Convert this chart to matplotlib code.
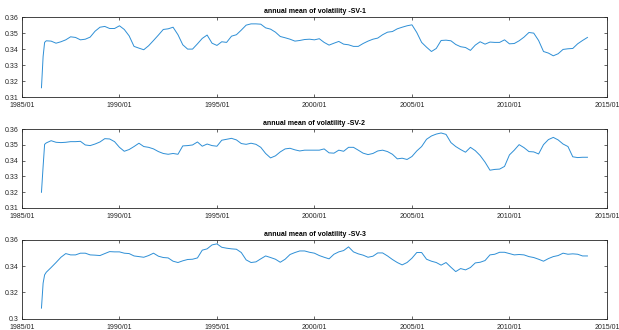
import matplotlib
matplotlib.use("Agg")
import matplotlib.pyplot as plt
import matplotlib.dates as mdates
import pandas as pd

# fechas: primeros meses sueltos, luego trimestral
fechas = pd.to_datetime(['1986-01-01', '1986-02-01', '1986-03-01']).append(
    pd.date_range('1986-04-01', '2014-01-01', freq='QS'))

sv1 = [0.3158, 0.3354, 0.3442, 0.3452, 0.3450, 0.3437, 0.3446, 0.3458, 0.3477, 0.3473,
       0.3458, 0.3462, 0.3475, 0.3512, 0.3537, 0.3542, 0.3529, 0.3529, 0.3546, 0.3523,
       0.3483, 0.3417, 0.3406, 0.3396, 0.3421, 0.3454, 0.3488, 0.3523, 0.3527, 0.3537,
       0.3490, 0.3427, 0.3400, 0.3400, 0.3433, 0.3467, 0.3488, 0.3437, 0.3423, 0.3446,
       0.3442, 0.3481, 0.3490, 0.3519, 0.3550, 0.3558, 0.3558, 0.3556, 0.3533, 0.3525,
       0.3506, 0.3479, 0.3471, 0.3462, 0.3450, 0.3454, 0.3460, 0.3462, 0.3458, 0.3465,
       0.3442, 0.3425, 0.3437, 0.3448, 0.3431, 0.3427, 0.3417, 0.3417, 0.3435, 0.3450,
       0.3462, 0.3469, 0.3490, 0.3506, 0.3510, 0.3527, 0.3537, 0.3546, 0.3552, 0.3504,
       0.3442, 0.3412, 0.3385, 0.3404, 0.3454, 0.3456, 0.3452, 0.3429, 0.3415, 0.3410,
       0.3392, 0.3425, 0.3446, 0.3431, 0.3444, 0.3442, 0.3442, 0.3458, 0.3433, 0.3435,
       0.3452, 0.3475, 0.3504, 0.3500, 0.3454, 0.3385, 0.3375, 0.3358, 0.3371, 0.3398,
       0.3402, 0.3404, 0.3433, 0.3454, 0.3473]

sv2 = [0.3199, 0.3363, 0.3503, 0.3512, 0.3526, 0.3516, 0.3514, 0.3516, 0.3520, 0.3520,
       0.3522, 0.3499, 0.3495, 0.3505, 0.3518, 0.3539, 0.3537, 0.3520, 0.3484, 0.3459,
       0.3470, 0.3489, 0.3510, 0.3489, 0.3484, 0.3474, 0.3457, 0.3445, 0.3440, 0.3445,
       0.3440, 0.3493, 0.3495, 0.3499, 0.3518, 0.3491, 0.3505, 0.3495, 0.3491, 0.3529,
       0.3535, 0.3541, 0.3531, 0.3508, 0.3503, 0.3510, 0.3503, 0.3484, 0.3445, 0.3417,
       0.3430, 0.3455, 0.3474, 0.3478, 0.3468, 0.3461, 0.3466, 0.3466, 0.3466, 0.3466,
       0.3474, 0.3449, 0.3447, 0.3466, 0.3459, 0.3484, 0.3484, 0.3466, 0.3447, 0.3438,
       0.3445, 0.3461, 0.3466, 0.3457, 0.3440, 0.3411, 0.3415, 0.3407, 0.3426, 0.3461,
       0.3489, 0.3535, 0.3556, 0.3568, 0.3575, 0.3566, 0.3514, 0.3489, 0.3470, 0.3453,
       0.3484, 0.3463, 0.3432, 0.3390, 0.3339, 0.3344, 0.3346, 0.3363, 0.3436, 0.3466,
       0.3501, 0.3482, 0.3457, 0.3455, 0.3442, 0.3501, 0.3533, 0.3547, 0.3531, 0.3505,
       0.3489, 0.3424, 0.3419, 0.3421, 0.3421]

sv3 = [0.3081, 0.3271, 0.3334, 0.3354, 0.3390, 0.3428, 0.3468, 0.3496, 0.3486, 0.3486,
       0.3499, 0.3499, 0.3486, 0.3484, 0.3481, 0.3496, 0.3511, 0.3509, 0.3509, 0.3499,
       0.3496, 0.3478, 0.3473, 0.3468, 0.3481, 0.3499, 0.3476, 0.3466, 0.3463, 0.3438,
       0.3428, 0.3441, 0.3451, 0.3453, 0.3463, 0.3522, 0.3532, 0.3562, 0.3570, 0.3544,
       0.3537, 0.3532, 0.3529, 0.3504, 0.3448, 0.3428, 0.3433, 0.3456, 0.3478, 0.3466,
       0.3453, 0.3430, 0.3453, 0.3489, 0.3504, 0.3516, 0.3516, 0.3506, 0.3499, 0.3481,
       0.3468, 0.3456, 0.3491, 0.3509, 0.3519, 0.3547, 0.3509, 0.3494, 0.3484, 0.3468,
       0.3476, 0.3501, 0.3501, 0.3478, 0.3451, 0.3428, 0.3410, 0.3428, 0.3461, 0.3504,
       0.3504, 0.3453, 0.3438, 0.3428, 0.3408, 0.3428, 0.3392, 0.3359, 0.3382, 0.3372,
       0.3390, 0.3425, 0.3430, 0.3443, 0.3486, 0.3491, 0.3506, 0.3506, 0.3496, 0.3486,
       0.3489, 0.3486, 0.3473, 0.3466, 0.3453, 0.3438, 0.3458, 0.3473, 0.3481, 0.3499,
       0.3491, 0.3494, 0.3491, 0.3478, 0.3478]

titulos = ['annual mean of volatility -SV-1', 'annual mean of volatility -SV-2',
           'annual mean of volatility -SV-3']
series = [sv1, sv2, sv3]
ylims = [(0.31, 0.36), (0.31, 0.36), (0.30, 0.36)]
yticks = [[0.31, 0.32, 0.33, 0.34, 0.35, 0.36],
          [0.31, 0.32, 0.33, 0.34, 0.35, 0.36],
          [0.30, 0.32, 0.34, 0.36]]
yticklabels = [['0.31', '0.32', '0.33', '0.34', '0.35', '0.36'],
               ['0.31', '0.32', '0.33', '0.34', '0.35', '0.36'],
               ['0.3', '0.32', '0.34', '0.36']]
xticks = pd.to_datetime(['1985-01-01', '1990-01-01', '1995-01-01', '2000-01-01',
                         '2005-01-01', '2010-01-01', '2015-01-01'])

plt.rcParams['font.family'] = ['Liberation Sans', 'DejaVu Sans']

fig = plt.figure(figsize=(6.19, 3.30), dpi=100)
# posiciones de los ejes (como subplot de matlab)
posiciones = [[0.0355, 0.706, 0.945, 0.242],
              [0.0355, 0.370, 0.945, 0.239],
              [0.0355, 0.034, 0.945, 0.239]]

for i in range(3):
    ax = fig.add_axes(posiciones[i])
    ax.plot(fechas, series[i], color='#2E8FD6', lw=0.7)
    ax.set_xlim(xticks[0], xticks[-1])
    ax.set_ylim(*ylims[i])
    ax.set_yticks(yticks[i])
    ax.set_yticklabels(yticklabels[i])
    ax.set_xticks(xticks)
    ax.xaxis.set_major_formatter(mdates.DateFormatter('%Y/%m'))
    ax.tick_params(direction='in', top=True, right=True, length=2.5, width=0.5,
                   labelsize=5, colors='#262626')
    ax.tick_params(axis='x', pad=3.5)
    ax.tick_params(axis='y', pad=2.5)
    for s in ax.spines.values():
        s.set_linewidth(0.6)
        s.set_color('#262626')
    ax.set_title(titulos[i], fontsize=5, fontweight='bold', pad=3)

fig.savefig('out.png', dpi=100)
